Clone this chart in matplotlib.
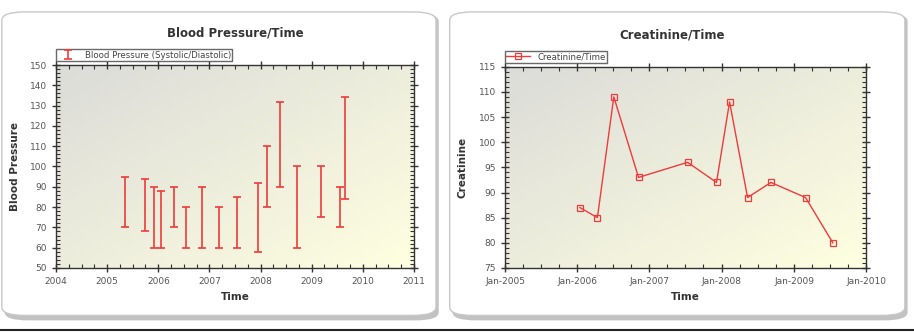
import numpy as np
import pandas as pd
import matplotlib
matplotlib.use('Agg')
import matplotlib.pyplot as plt
import matplotlib.dates as mdates
from matplotlib.patches import FancyBboxPatch

# Blood pressure readings (systolic / diastolic)
bp_dates = ['2005-05-08', '2005-09-24', '2005-12-02', '2006-01-23', '2006-04-20',
            '2006-07-16', '2006-11-10', '2007-03-11', '2007-07-20', '2007-12-13',
            '2008-02-17', '2008-05-22', '2008-09-20', '2009-03-11', '2009-07-24',
            '2009-08-26']
systolic  = [95, 94, 90, 88, 90, 80, 90, 80, 85, 92, 110, 132, 100, 100, 90, 134]
diastolic = [70, 68, 60, 60, 70, 60, 60, 60, 60, 58, 80, 90, 60, 75, 70, 84]

# Creatinine readings
cr_dates = ['2006-01-15', '2006-04-13', '2006-07-05', '2006-11-07', '2007-07-13',
            '2007-12-06', '2008-02-10', '2008-05-11', '2008-09-06', '2009-02-28',
            '2009-07-16']
creatinine = [87, 85, 109, 93, 96, 92, 108, 89, 92, 89, 80]

RED = '#ee3b3b'


def gradient_bg(ax):
    """grey top-left to pale yellow bottom-right"""
    n = 200
    xx, yy = np.meshgrid(np.linspace(0, 1, n), np.linspace(1, 0, n))
    t = np.clip((xx + (1 - yy)) / 2.0, 0, 1)[..., None]
    c0 = np.array([0.86, 0.86, 0.85])
    c1 = np.array([1.00, 1.00, 0.88])
    img = c0 * (1 - t) + c1 * t
    ax.imshow(img, extent=[0, 1, 0, 1], transform=ax.transAxes,
              aspect='auto', zorder=0, origin='upper')


def style_axes(ax):
    for s in ax.spines.values():
        s.set_color('#333333')
        s.set_linewidth(1.0)
    ax.tick_params(which='major', direction='inout', length=6, width=1,
                   top=True, right=True, labelsize=6.5, labelcolor='#555555',
                   color='#333333')
    ax.tick_params(which='minor', direction='in', length=3, width=0.8,
                   top=True, right=True, color='#333333')


def style_legend(leg):
    leg.get_frame().set_edgecolor('#444444')
    leg.get_frame().set_linewidth(1.0)
    for t in leg.get_texts():
        t.set_color('#444444')


fig = plt.figure(figsize=(9.14, 3.32), dpi=100)
fig.patch.set_facecolor('white')

# card panels
for x0, w in [(0.002, 0.475), (0.492, 0.498)]:
    shadow = FancyBboxPatch((x0 + 0.003, 0.035), w, 0.925,
                            boxstyle='round,pad=0,rounding_size=0.025',
                            transform=fig.transFigure, facecolor='#9a9a9a',
                            edgecolor='none', zorder=-3, alpha=0.6)
    card = FancyBboxPatch((x0, 0.05), w, 0.914,
                          boxstyle='round,pad=0,rounding_size=0.025',
                          transform=fig.transFigure, facecolor='white',
                          edgecolor='#c8c8c8', linewidth=1.0, zorder=-2)
    fig.patches.extend([shadow, card])
fig.add_artist(plt.Line2D([0, 1], [0.006, 0.006], color='#222222', lw=1.5,
                          transform=fig.transFigure))

# ---- left: blood pressure ----
ax1 = fig.add_axes([0.0613, 0.1928, 0.3917, 0.6114])
gradient_bg(ax1)
d1 = pd.to_datetime(bp_dates)
sys_a = np.array(systolic)
dia_a = np.array(diastolic)
mid = (sys_a + dia_a) / 2.0
half = (sys_a - dia_a) / 2.0
ax1.errorbar(d1, mid, yerr=half, fmt='none', ecolor=RED, elinewidth=1.2,
             capsize=3, capthick=1.2, label='Blood Pressure (Systolic/Diastolic)',
             zorder=3)
ax1.set_xlim(pd.Timestamp('2004-01-01'), pd.Timestamp('2011-01-01'))
ax1.set_ylim(50, 150)
ax1.set_yticks(np.arange(50, 151, 10))
ax1.yaxis.set_minor_locator(matplotlib.ticker.MultipleLocator(2))
ax1.xaxis.set_major_locator(mdates.YearLocator())
ax1.xaxis.set_major_formatter(mdates.DateFormatter('%Y'))
ax1.xaxis.set_minor_locator(mdates.MonthLocator(bymonth=[4, 7, 10]))
style_axes(ax1)
ax1.set_xlabel('Time', fontsize=7.5, fontweight='bold', color='#333333', labelpad=4)
ax1.set_ylabel('Blood Pressure', fontsize=7.5, fontweight='bold', color='#333333', labelpad=7)
fig.text(0.257, 0.90, 'Blood Pressure/Time', ha='center', va='center',
         fontsize=8.5, fontweight='bold', color='#333333')
leg1 = ax1.legend(loc='lower left', bbox_to_anchor=(0.0, 1.02), fontsize=6.2,
                  frameon=True, fancybox=False, borderpad=0.15, handlelength=2.4,
                  borderaxespad=0)
style_legend(leg1)

# ---- right: creatinine ----
ax2 = fig.add_axes([0.5525, 0.1928, 0.3953, 0.6063])
gradient_bg(ax2)
d2 = pd.to_datetime(cr_dates)
ax2.plot(d2, creatinine, color=RED, lw=1.0, marker='s', markersize=5,
         markerfacecolor='none', markeredgecolor=RED, markeredgewidth=0.9,
         label='Creatinine/Time', zorder=3)
ax2.set_xlim(pd.Timestamp('2005-01-01'), pd.Timestamp('2010-01-01'))
ax2.set_ylim(75, 115)
ax2.set_yticks(np.arange(75, 116, 5))
ax2.yaxis.set_minor_locator(matplotlib.ticker.MultipleLocator(1))
ax2.xaxis.set_major_locator(mdates.YearLocator())
ax2.xaxis.set_major_formatter(mdates.DateFormatter('Jan-%Y'))
ax2.xaxis.set_minor_locator(mdates.MonthLocator(bymonth=[4, 7, 10]))
style_axes(ax2)
ax2.set_xlabel('Time', fontsize=7.5, fontweight='bold', color='#333333', labelpad=4)
ax2.set_ylabel('Creatinine', fontsize=7.5, fontweight='bold', color='#333333', labelpad=8)
fig.text(0.735, 0.895, 'Creatinine/Time', ha='center', va='center',
         fontsize=8.5, fontweight='bold', color='#333333')
leg2 = ax2.legend(loc='lower left', bbox_to_anchor=(0.0, 1.02), fontsize=6.2,
                  frameon=True, fancybox=False, borderpad=0.15, handlelength=2.8,
                  borderaxespad=0)
style_legend(leg2)

fig.savefig('out.png', dpi=100, facecolor=fig.get_facecolor())
